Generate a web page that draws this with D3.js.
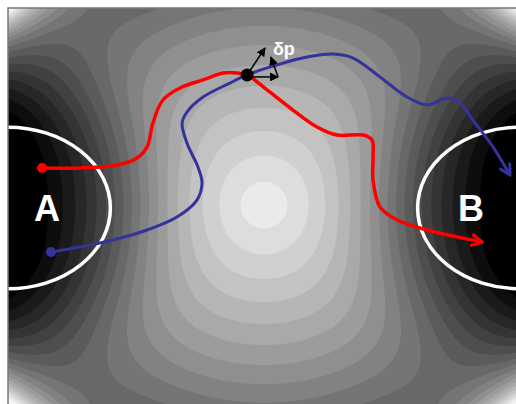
<!DOCTYPE html>
<html>
<head>
<meta charset="utf-8">
<script src="https://cdn.jsdelivr.net/npm/d3@7"></script>
<style>
  body { margin: 0; background: #fff; }
  svg { display: block; }
</style>
</head>
<body>
<div class="container"></div>
<script>
// paths in reaction coordinates, x and y both run -1..1
var redPath = [
  [-0.867, 0.188], [-0.719, 0.188], [-0.574, 0.203], [-0.496, 0.239], [-0.457, 0.294],
  [-0.434, 0.416], [-0.395, 0.533], [-0.328, 0.594], [-0.238, 0.635], [-0.160, 0.670],
  [-0.105, 0.670], [-0.066, 0.660], [0.012, 0.584], [0.113, 0.482], [0.207, 0.396],
  [0.285, 0.355], [0.387, 0.355], [0.422, 0.330], [0.426, 0.244], [0.426, 0.127],
  [0.453, -0.010], [0.520, -0.076], [0.637, -0.127], [0.754, -0.162], [0.852, -0.188]
];

var bluePath = [
  [-0.832, -0.239], [-0.719, -0.213], [-0.590, -0.178], [-0.457, -0.127], [-0.340, -0.061],
  [-0.262, 0.025], [-0.242, 0.112], [-0.258, 0.193], [-0.301, 0.315], [-0.320, 0.416],
  [-0.301, 0.472], [-0.238, 0.548], [-0.133, 0.619], [-0.066, 0.660], [0.051, 0.711],
  [0.168, 0.751], [0.270, 0.766], [0.348, 0.746], [0.453, 0.650], [0.559, 0.548],
  [0.637, 0.508], [0.715, 0.543], [0.766, 0.518], [0.816, 0.431], [0.895, 0.294],
  [0.961, 0.152]
];

var saddle = [-0.066, 0.660];
// [from, to] for the little perturbation arrows
var deltaArrows = [
  [[-0.066, 0.660], [0.004, 0.797]],
  [[-0.066, 0.650], [0.055, 0.650]],
  [[0.055, 0.650], [0.027, 0.751]]
];

var basins = [
  {name: "A", cx: -1, cy: -0.015, rx: 0.40, ry: 0.41, lx: -0.848},
  {name: "B", cx: 1, cy: -0.015, rx: 0.40, ry: 0.41, lx: 0.809}
];

// energy surface: cone-shaped barrier, two wells, raised corners (grey units)
var PEAK = 246, SLOPE = 0.46, CURVE = 0.00064, PEAK_STRETCH = 0.9;
var wells = [[-1, 0], [1, 0]];
var WELL_DEPTH = 122, WELL_SX = 21000, WELL_SY = 16900, WELL_POW = 1.5;
var CORNER = 230, CORNER_POW = 2.7;
var levels = d3.range(0, 260, 13);

const WIDTH = 516;
const HEIGHT = 404;
const LEFT = 8, TOP = 8, RIGHT = 520, BOTTOM = 402;
const HALF_W = (RIGHT - LEFT) / 2, HALF_H = (BOTTOM - TOP) / 2;

var xScale = d3.scaleLinear().domain([-1, 1]).range([LEFT, RIGHT]);
var yScale = d3.scaleLinear().domain([-1, 1]).range([BOTTOM, TOP]);

var surface = function(u, v) {
  var dx = u * HALF_W * PEAK_STRETCH, dy = v * HALF_H;
  var r = Math.sqrt(dx * dx + dy * dy);
  var z = PEAK - SLOPE * r - CURVE * r * r;
  wells.forEach(function(w) {
    var wx = (u - w[0]) * HALF_W, wy = (v - w[1]) * HALF_H;
    var q = wx * wx / WELL_SX + wy * wy / WELL_SY;
    z -= WELL_DEPTH * Math.exp(-Math.pow(q, WELL_POW));
  });
  z += CORNER * Math.pow(u * u * v * v, CORNER_POW);
  return z;
};

var svg = d3.select('.container').append('svg')
  .attr('width', WIDTH)
  .attr('height', HEIGHT);

var defs = svg.append('defs');
defs.append('clipPath').attr('id', 'plot')
  .append('rect')
  .attr('x', LEFT).attr('y', TOP)
  .attr('width', RIGHT - LEFT).attr('height', HEIGHT - TOP + 10);

var chevron = function(id, color) {
  defs.append('marker')
    .attr('id', id)
    .attr('viewBox', '0 0 14 14')
    .attr('refX', 12).attr('refY', 7)
    .attr('markerWidth', 14).attr('markerHeight', 14)
    .attr('markerUnits', 'userSpaceOnUse')
    .attr('orient', 'auto')
    .append('path')
    .attr('d', 'M1,1 L12,7 L1,13')
    .attr('fill', 'none')
    .attr('stroke', color)
    .attr('stroke-width', 3);
};
chevron('redHead', '#ff0000');
chevron('blueHead', '#333399');

defs.append('marker')
  .attr('id', 'smallHead')
  .attr('viewBox', '0 0 10 10')
  .attr('refX', 9).attr('refY', 5)
  .attr('markerWidth', 9).attr('markerHeight', 9)
  .attr('markerUnits', 'userSpaceOnUse')
  .attr('orient', 'auto')
  .append('path')
  .attr('d', 'M0,0 L10,5 L0,10 Z')
  .attr('fill', '#000');

var plot = svg.append('g').attr('clip-path', 'url(#plot)');

// sample the surface on a 2px grid and contour it
var STEP = 2;
var nx = Math.ceil((RIGHT - LEFT) / STEP), ny = Math.ceil((HEIGHT + 10 - TOP) / STEP);
var values = new Array(nx * ny);
for (var j = 0; j < ny; j++) {
  for (var i = 0; i < nx; i++) {
    var u = xScale.invert(LEFT + (i + 0.5) * STEP);
    var v = yScale.invert(TOP + (j + 0.5) * STEP);
    values[j * nx + i] = surface(u, v);
  }
}

var bands = d3.contours().size([nx, ny]).thresholds(levels)(values);

plot.append('rect')
  .attr('x', LEFT).attr('y', TOP)
  .attr('width', RIGHT - LEFT).attr('height', HEIGHT)
  .attr('fill', '#000');

plot.append('g')
  .attr('transform', 'translate(' + LEFT + ',' + TOP + ') scale(' + STEP + ')')
  .selectAll('path')
  .data(bands)
  .enter().append('path')
  .attr('d', d3.geoPath())
  .attr('fill', function(d) { var g = Math.min(245, d.value); return d3.rgb(g, g, g); });

// basin boundaries
plot.selectAll('ellipse')
  .data(basins)
  .enter().append('ellipse')
  .attr('cx', function(d) { return xScale(d.cx); })
  .attr('cy', function(d) { return yScale(d.cy); })
  .attr('rx', function(d) { return xScale(d.rx) - xScale(0); })
  .attr('ry', function(d) { return yScale(0) - yScale(d.ry); })
  .attr('fill', 'none')
  .attr('stroke', '#fff')
  .attr('stroke-width', 3.5);

plot.selectAll('text.basin')
  .data(basins)
  .enter().append('text')
  .classed('basin', true)
  .attr('x', function(d) { return xScale(d.lx); })
  .attr('y', function(d) { return yScale(d.cy); })
  .attr('dy', '0.36em')
  .attr('text-anchor', 'middle')
  .attr('font-family', 'Liberation Sans, Arial, sans-serif')
  .attr('font-weight', 'bold')
  .attr('font-size', 36)
  .attr('fill', '#fff')
  .text(function(d) { return d.name; });

var line = d3.line()
  .x(function(d) { return xScale(d[0]); })
  .y(function(d) { return yScale(d[1]); })
  .curve(d3.curveCatmullRom.alpha(0.5));

var trajectories = [
  {pts: bluePath, color: '#333399', width: 3, head: 'blueHead'},
  {pts: redPath, color: '#ff0000', width: 3.5, head: 'redHead'}
];

trajectories.forEach(function(t) {
  plot.append('path')
    .attr('d', line(t.pts))
    .attr('fill', 'none')
    .attr('stroke', t.color)
    .attr('stroke-width', t.width)
    .attr('marker-end', 'url(#' + t.head + ')');
  plot.append('circle')
    .attr('cx', xScale(t.pts[0][0]))
    .attr('cy', yScale(t.pts[0][1]))
    .attr('r', 5)
    .attr('fill', t.color);
});

plot.selectAll('line.delta')
  .data(deltaArrows)
  .enter().append('line')
  .classed('delta', true)
  .attr('x1', function(d) { return xScale(d[0][0]); })
  .attr('y1', function(d) { return yScale(d[0][1]); })
  .attr('x2', function(d) { return xScale(d[1][0]); })
  .attr('y2', function(d) { return yScale(d[1][1]); })
  .attr('stroke', '#000')
  .attr('stroke-width', 1.5)
  .attr('marker-end', 'url(#smallHead)');

plot.append('circle')
  .attr('cx', xScale(saddle[0]))
  .attr('cy', yScale(saddle[1]))
  .attr('r', 6.5)
  .attr('fill', '#000');

plot.append('text')
  .attr('x', xScale(0.035))
  .attr('y', yScale(0.761))
  .attr('font-family', 'Liberation Sans, Arial, sans-serif')
  .attr('font-weight', 'bold')
  .attr('font-size', 18)
  .attr('fill', '#fff')
  .text('δp');

// frame
svg.append('path')
  .attr('d', 'M' + LEFT + ',' + HEIGHT + ' V' + TOP + ' H' + WIDTH)
  .attr('fill', 'none')
  .attr('stroke', '#777')
  .attr('stroke-width', 1.5);
</script>
</body>
</html>
